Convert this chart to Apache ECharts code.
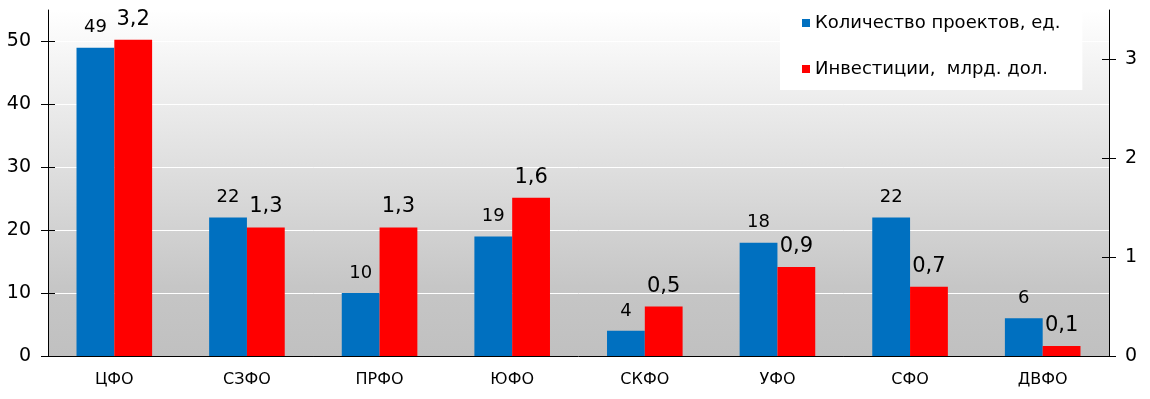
<!DOCTYPE html>
<html>
<head>
<meta charset="utf-8">
<script src="https://cdn.jsdelivr.net/npm/echarts@6/dist/echarts.min.js"></script>
<style>
  html, body { margin: 0; padding: 0; background: #fff; }
  #chart { width: 1150px; height: 399px; }
</style>
</head>
<body>
<div id="chart"></div>
<script>
// данные по федеральным округам
const districts = ['ЦФО', 'СЗФО', 'ПРФО', 'ЮФО', 'СКФО', 'УФО', 'СФО', 'ДВФО']
const projects = [49, 22, 10, 19, 4, 18, 22, 6]
const investments = [3.2, 1.3, 1.3, 1.6, 0.5, 0.9, 0.7, 0.1]
const leftTicks = [0, 10, 20, 30, 40, 50]
const rightTicks = [0, 1, 2, 3]

const font = 'DejaVu Sans'
const comma = v => String(v).replace('.', ',')

const chart = echarts.init(document.getElementById('chart'))

// общие настройки шкал
const leftScale = { min: 0, max: 55, interval: 10 }
const rightScale = { min: 0, max: 3.5, interval: 1 }
const hidden = { axisLine: { show: false }, axisLabel: { show: false }, splitLine: { show: false } }

chart.setOption({
  animation: false,
  textStyle: { fontFamily: font },
  grid: {
    left: 48, right: 41, top: 10, bottom: 43,
    show: true, borderWidth: 0,
    backgroundColor: {
      type: 'linear', x: 0, y: 0, x2: 0, y2: 1,
      colorStops: [
        { offset: 0, color: '#ffffff' },
        { offset: 0.8, color: '#c6c6c6' },
        { offset: 1, color: '#c0c0c0' }
      ]
    }
  },
  legend: {
    left: 780, top: 3, orient: 'vertical',
    backgroundColor: '#fff',
    padding: [11, 22, 12, 22],
    itemGap: 28, itemWidth: 8, itemHeight: 8,
    icon: 'rect',
    textStyle: { fontSize: 18, color: '#000', fontFamily: font },
    data: ['Количество проектов, ед.', 'Инвестиции,  млрд. дол.']
  },
  xAxis: {
    type: 'category',
    data: districts,
    axisLine: { lineStyle: { color: '#000', width: 1 } },
    axisTick: { interval: 0, length: 8, lineStyle: { color: '#000' } },
    axisLabel: { color: '#000', fontSize: 16, margin: 16, interval: 0 }
  },
  yAxis: [
    {
      type: 'value', position: 'left', ...leftScale,
      axisLine: { show: true, lineStyle: { color: '#000' } },
      axisTick: { show: true, length: 7, customValues: leftTicks, lineStyle: { color: '#000' } },
      axisLabel: { color: '#000', fontSize: 19, margin: 17, customValues: leftTicks },
      splitLine: { show: true, lineStyle: { color: '#fff', width: 1 } }
    },
    {
      type: 'value', position: 'right', ...rightScale,
      axisLine: { show: true, lineStyle: { color: '#000' } },
      axisTick: { show: true, length: 7, customValues: rightTicks, lineStyle: { color: '#000' } },
      axisLabel: { color: '#000', fontSize: 19, margin: 16, customValues: rightTicks },
      splitLine: { show: false }
    },
    // внутренние половинки делений
    {
      type: 'value', position: 'left', ...leftScale, ...hidden,
      axisTick: { show: true, inside: true, length: 7, customValues: leftTicks, lineStyle: { color: '#000' } }
    },
    {
      type: 'value', position: 'right', ...rightScale, ...hidden,
      axisTick: { show: true, inside: true, length: 7, customValues: rightTicks, lineStyle: { color: '#000' } }
    }
  ],
  series: [
    {
      name: 'Количество проектов, ед.',
      type: 'bar', yAxisIndex: 0,
      data: projects,
      barGap: 0, barCategoryGap: '43%',
      itemStyle: { color: '#0070c0' },
      label: { show: true, position: 'top', distance: 11, color: '#000', fontSize: 18 }
    },
    {
      name: 'Инвестиции,  млрд. дол.',
      type: 'bar', yAxisIndex: 1,
      data: investments,
      barGap: 0, barCategoryGap: '43%',
      itemStyle: { color: '#ff0000' },
      label: {
        show: true, position: 'top', distance: 10, color: '#000', fontSize: 21,
        formatter: p => comma(p.value)
      }
    }
  ]
})
</script>
</body>
</html>
